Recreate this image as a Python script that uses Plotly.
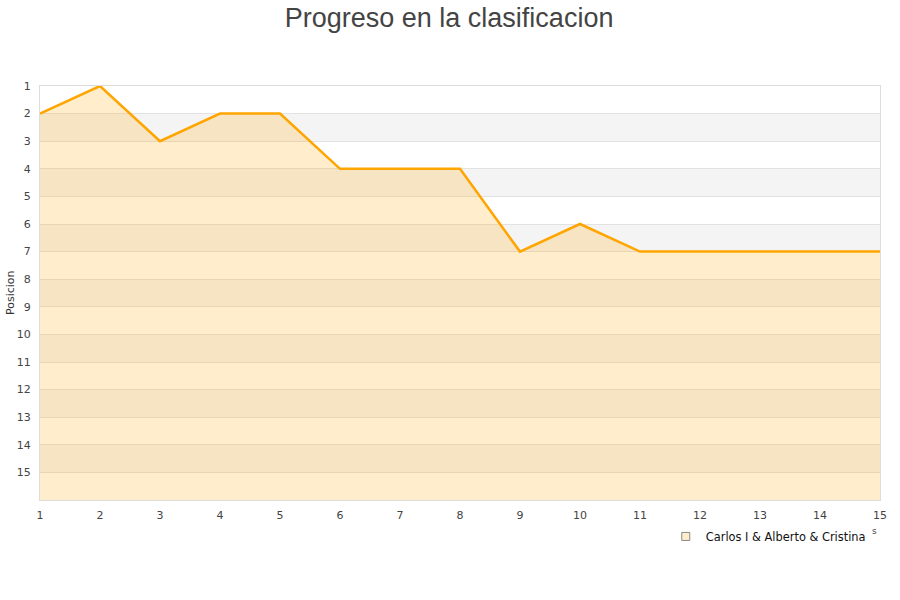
import plotly.graph_objects as go

jornadas = list(range(1, 16))
posiciones = [2, 1, 3, 2, 2, 4, 4, 4, 7, 6, 7, 7, 7, 7, 7]
serie = "Carlos I & Alberto & Cristina"
titulo = "Progreso en la clasificacion"
titulo_y = "Posicion"
y_max = 16

fig = go.Figure()

# baseline for the area fill (bottom of reversed axis)
fig.add_trace(go.Scatter(x=jornadas, y=[y_max] * len(jornadas), mode="lines",
                         line=dict(width=0, color="rgba(0,0,0,0)"),
                         showlegend=False, hoverinfo="skip"))
fig.add_trace(go.Scatter(x=jornadas, y=posiciones, mode="lines",
                         line=dict(color="#FFA500", width=2.5),
                         fill="tonexty", fillcolor="rgba(255,165,0,0.2)",
                         showlegend=False, name=serie))
# legend entry
fig.add_trace(go.Scatter(x=[None], y=[None], mode="markers", name=serie,
                         marker=dict(symbol="square", size=8, color="#ffedcc",
                                     line=dict(color="#888", width=1))))

shapes = []
for k in range(2, 15, 2):
    shapes.append(dict(type="rect", xref="paper", yref="y", x0=0, x1=1, y0=k, y1=k + 1,
                       fillcolor="#f4f4f4", line=dict(width=0), layer="below"))

fig.update_layout(
    width=900, height=600,
    margin=dict(l=40, r=20, t=86, b=100, autoexpand=False),
    paper_bgcolor="white", plot_bgcolor="white",
    shapes=shapes,
    title=dict(text=titulo, x=0.499, xanchor="center", y=0.970, yanchor="middle",
               font=dict(family="Liberation Sans, Arial", size=27, color="#444")),
    font=dict(family="DejaVu Sans", size=11, color="#444"),
    xaxis=dict(range=[1, 15], tickmode="array", tickvals=jornadas, automargin=False,
               showgrid=False, zeroline=False, showline=True, linecolor="#dcdcdc",
               mirror=True, ticks="outside", ticklen=5, tickcolor="rgba(0,0,0,0)",
               tickfont=dict(size=11, color="#444")),
    yaxis=dict(range=[y_max, 1], tickmode="array", tickvals=list(range(1, 16)),
               automargin=False,
               showgrid=True, gridcolor="#e2e2e2", zeroline=False, showline=True,
               linecolor="#dcdcdc", mirror=True, ticks="outside", ticklen=6,
               tickcolor="rgba(0,0,0,0)",
               tickfont=dict(size=11, color="#444")),
    legend=dict(orientation="h", x=0.989, xanchor="right", y=-0.088, yanchor="middle",
                font=dict(size=11.4, color="#111"), bgcolor="rgba(0,0,0,0)",
                itemwidth=30),
    annotations=[
        dict(text="s", xref="paper", yref="paper", x=0.994, y=-0.075,
             xanchor="center", yanchor="middle", showarrow=False,
             font=dict(size=9, color="#444")),
        dict(text=titulo_y, xref="paper", yref="paper", x=-0.0357, y=0.5,
             xanchor="center", yanchor="middle", textangle=-90, showarrow=False,
             font=dict(size=11, color="#333")),
    ],
)

fig.write_html("out.html", config={"displayModeBar": False},
               post_script="document.body.style.margin='0px';")
